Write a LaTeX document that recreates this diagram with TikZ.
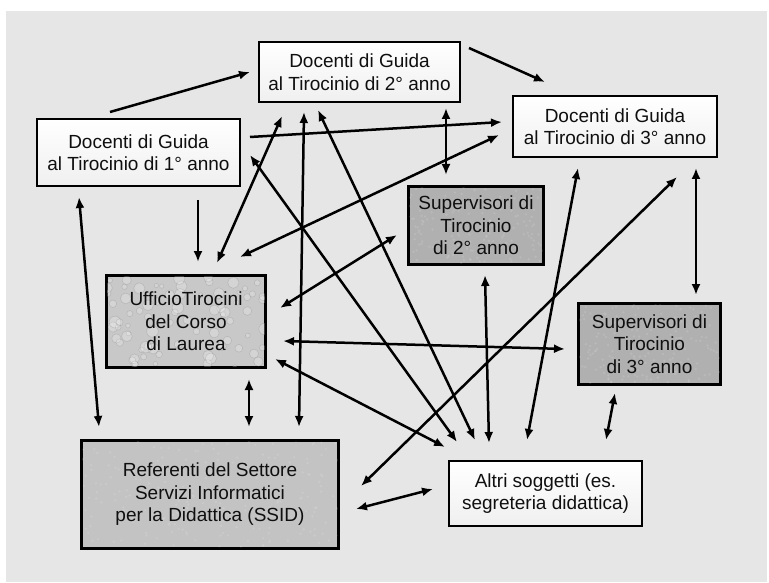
\documentclass[tikz,border=0pt]{standalone}
\usepackage{fontspec}
\setmainfont{Liberation Sans}
\usetikzlibrary{arrows.meta,calc}
\definecolor{bg}{RGB}{230,230,230}
\definecolor{txt}{RGB}{15,15,15}
\definecolor{uff}{RGB}{200,200,200}
\definecolor{ssid}{RGB}{195,195,195}
\definecolor{sup}{RGB}{176,176,176}
\begin{document}
\begin{tikzpicture}[x=1pt,y=-1pt,
  box/.style={draw=black, line width=2.2pt, inner sep=0pt, align=center,
    text=txt, font=\fontsize{19}{22.5}\selectfont},
  wbox/.style={box, top color=white, bottom color=black!6},
  ufbox/.style={box, fill=uff},
  ssbox/.style={box, fill=ssid},
  spbox/.style={box, fill=sup},
  one/.style={line width=2.5pt, -{Latex[length=11pt,width=9pt]}},
  two/.style={line width=2.5pt, {Latex[length=11pt,width=9pt]}-{Latex[length=11pt,width=9pt]}}
]
\useasboundingbox (0,0) rectangle (769,583);
\fill[bg] (6,11) rectangle (767,582);

% boxes
\node[wbox, minimum width=201pt, minimum height=60pt] (d2) at (359.5,72) {Docenti di Guida\\al Tirocinio di 2° anno};
\node[wbox, minimum width=203pt, minimum height=67pt] (d1) at (138.5,152.5) {Docenti di Guida\\al Tirocinio di 1° anno};
\node[wbox, minimum width=204pt, minimum height=61pt] (d3) at (615,126.5) {Docenti di Guida\\al Tirocinio di 3° anno};
\node[spbox, minimum width=134pt, minimum height=77pt] (s2) at (476,225.5) {};
\node[ufbox, minimum width=158pt, minimum height=91pt] (uf) at (186,321.5) {};
\node[ssbox, minimum width=256pt, minimum height=107pt] (ss) at (210,494.5) {};
\node[spbox, minimum width=141pt, minimum height=80pt] (s3) at (649.5,344) {};
\node[wbox, minimum width=193pt, minimum height=65pt] (al) at (545.5,493.5) {Altri soggetti (es.\\segreteria didattica)};

% droplet texture for Ufficio
\begin{scope}
  \clip (uf.south west) rectangle (uf.north east);
  \pgfmathsetseed{7}
  \foreach \i in {1,...,80}{
    \pgfmathsetmacro{\px}{107+158*rnd}
    \pgfmathsetmacro{\py}{276+91*rnd}
    \pgfmathsetmacro{\pr}{2+4*rnd}
    \fill[white, opacity=0.22] (\px,\py) circle (\pr pt);
    \draw[black, opacity=0.10, line width=0.6pt] (\px,\py) circle (\pr pt);
  }
\end{scope}
\draw[black, line width=2.2pt] (uf.south west) rectangle (uf.north east);

% speckle texture for supervisor and SSID boxes
\foreach \b/\s/\n/\hh in {s2/3/160/77, s3/5/170/80, ss/9/220/107}{
  \begin{scope}
    \clip (\b.south west) rectangle (\b.north east);
    \pgfmathsetseed{\s}
    \foreach \i in {1,...,\n}{
      \pgfmathsetmacro{\px}{rnd}
      \pgfmathsetmacro{\py}{\hh*rnd}
      \fill[white, opacity=0.12] ($(\b.north west)!\px!(\b.north east)+(0,\py)$) circle (1.3pt);
    }
  \end{scope}
  \draw[black, line width=2.2pt] (\b.south west) rectangle (\b.north east);
}

\node[box, draw=none] (t2) at (s2) {Supervisori di\\Tirocinio\\di 2° anno};
\node[box, draw=none] (t3) at (s3) {Supervisori di\\Tirocinio\\di 3° anno};
\node[box, draw=none] (tu) at (uf) {UfficioTirocini\\del Corso\\di Laurea};
\node[box, draw=none] (ts) at (ss) {Referenti del Settore\\Servizi Informatici\\per la Didattica (SSID)};

% connector end points
\coordinate (a1) at (110,112);  \coordinate (b1) at (250,72);
\coordinate (a2) at (469,48);   \coordinate (b2) at (545,82);
\coordinate (a3) at (250,137);  \coordinate (b3) at (502,122);
\coordinate (a4) at (446,108);  \coordinate (b4) at (446,175);
\coordinate (a5) at (198,200);  \coordinate (b5) at (198,262);
\coordinate (a6) at (217,263);  \coordinate (b6) at (282,116);
\coordinate (a7) at (240,257);  \coordinate (b7) at (499,135);
\coordinate (a8) at (304,112);  \coordinate (b8) at (299,427);
\coordinate (a9) at (318,110);  \coordinate (b9) at (475,440);
\coordinate (a10) at (250,155); \coordinate (b10) at (457,442);
\coordinate (a11) at (79,197);  \coordinate (b11) at (99,427);
\coordinate (a12) at (280,308); \coordinate (b12) at (397,235);
\coordinate (a13) at (283,341); \coordinate (b13) at (565,349);
\coordinate (a14) at (275,359); \coordinate (b14) at (445,447);
\coordinate (a15) at (249,379); \coordinate (b15) at (249,427);
\coordinate (a16) at (485,275); \coordinate (b16) at (489,443);
\coordinate (a17) at (578,168); \coordinate (b17) at (527,440);
\coordinate (a18) at (677,177); \coordinate (b18) at (361,486);
\coordinate (a19) at (696,168); \coordinate (b19) at (696,295);
\coordinate (a20) at (615,393); \coordinate (b20) at (606,440);
\coordinate (a21) at (356,509); \coordinate (b21) at (433,489);

\draw[one] (a1) -- (b1);
\draw[one] (a2) -- (b2);
\draw[one] (a3) -- (b3);
\draw[one] (a5) -- (b5);
\foreach \k in {4,6,7,8,9,10,11,12,13,14,15,16,17,18,19,20,21}{
  \draw[two] (a\k) -- (b\k);
}
\end{tikzpicture}
\end{document}
